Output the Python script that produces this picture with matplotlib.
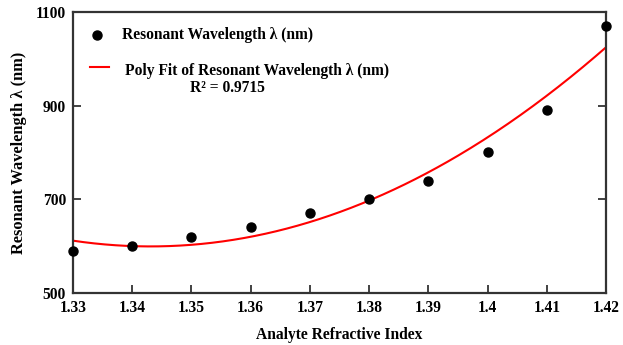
import numpy as np
import matplotlib
matplotlib.use("Agg")
import matplotlib.pyplot as plt

plt.rcParams['font.family'] = ['Liberation Serif', 'DejaVu Serif']
plt.rcParams['font.weight'] = 'bold'

ri = [1.33, 1.34, 1.35, 1.36, 1.37, 1.38, 1.39, 1.40, 1.41, 1.42]
wavelength = [590, 600, 620, 640, 670, 700, 740, 800, 890, 1070]
xticks = [1.33, 1.34, 1.35, 1.36, 1.37, 1.38, 1.39, 1.40, 1.41, 1.42]
xticklabels = ['1.33', '1.34', '1.35', '1.36', '1.37', '1.38', '1.39', '1.4', '1.41', '1.42']
yticks = [500, 700, 900, 1100]
r2_text = 'R² = 0.9715'

coef = np.polyfit(ri, wavelength, 2)
xs = np.linspace(1.33, 1.42, 300)
ys = np.polyval(coef, xs)

fig = plt.figure(figsize=(6.23, 3.45), dpi=100)
ax = fig.add_axes([0.117, 0.151, 0.856, 0.814])
axc = '#333333'
ax.plot(xs, ys, color='red', lw=1.5, zorder=2)
ax.plot(ri, wavelength, 'o', color='black', ms=6.5, zorder=3, clip_on=False)

ax.set_xlim(1.33, 1.42)
ax.set_ylim(500, 1100)
ax.set_xticks(xticks)
ax.set_xticklabels(xticklabels)
ax.set_yticks(yticks)
for s in ax.spines.values():
    s.set_color(axc)
    s.set_linewidth(1.6)
ax.tick_params(direction='in', length=6, width=1.3, color=axc, labelsize=11.2,
               right=True, top=False, pad=5)
for lab in ax.get_xticklabels() + ax.get_yticklabels():
    lab.set_fontweight('bold')

ax.set_xlabel('Analyte Refractive Index', fontsize=11.2, fontweight='bold', labelpad=8)
ax.set_ylabel('Resonant Wavelength λ (nm)', fontsize=11.8, fontweight='bold', labelpad=6)

# manual legend
tr = ax.transAxes
ax.plot([0.046], [0.918], 'o', color='black', ms=6.5, transform=tr, clip_on=False)
ax.text(0.092, 0.918, 'Resonant Wavelength λ (nm)', transform=tr, fontsize=11.2,
        fontweight='bold', va='center', ha='left')
ax.plot([0.033, 0.068], [0.803, 0.803], color='red', lw=1.5, transform=tr)
ax.text(0.098, 0.790, 'Poly Fit of Resonant Wavelength λ (nm)', transform=tr, fontsize=11.2,
        fontweight='bold', va='center', ha='left')
ax.text(0.29, 0.730, r2_text, transform=tr, fontsize=11.2,
        fontweight='bold', va='center', ha='center')

fig.savefig('out.png', dpi=100)
